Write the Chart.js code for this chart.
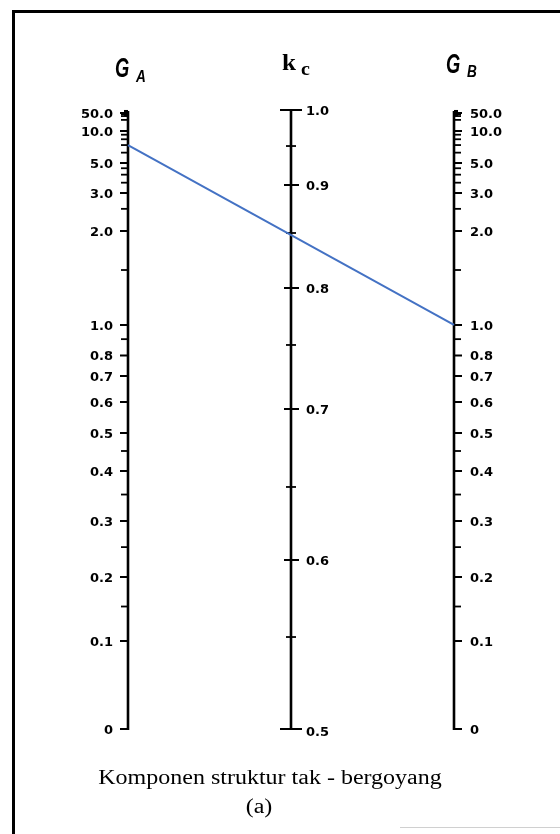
<!DOCTYPE html>
<html>
<head>
<meta charset="utf-8">
<script src="https://cdn.jsdelivr.net/npm/chart.js@4.4.1/dist/chart.umd.min.js"></script>
<style>
  html, body { margin: 0; padding: 0; background: #ffffff; }
  #wrap { position: relative; width: 560px; height: 834px; overflow: hidden; }
  #c { position: absolute; left: 0; top: 0; }
  .frame { position: absolute; background: #000; }
</style>
</head>
<body>
<div id="wrap">
  <canvas id="c" width="560" height="834"></canvas>
  <div class="frame" style="left:12px;top:10px;width:548px;height:3px;"></div>
  <div class="frame" style="left:12px;top:10px;width:3px;height:824px;"></div>
  <div class="frame" style="left:400px;top:827px;width:160px;height:1px;background:#d0d0d0;"></div>
</div>
<script>
// ---------------- data ----------------
const G_TICK_VALUES = [50, 10, 5, 3, 2, 1, 0.8, 0.7, 0.6, 0.5, 0.4, 0.3, 0.2, 0.1, 0];
const G_TICK_LABELS = ['50.0', '10.0', '5.0', '3.0', '2.0', '1.0', '0.8', '0.7', '0.6', '0.5', '0.4', '0.3', '0.2', '0.1', '0'];
const G_MINOR_TICKS = [40, 30, 20, 9, 8, 7, 6, 4.5, 4, 3.5, 2.5, 1.5, 0.9, 0.45, 0.35, 0.25, 0.15];
const K_TICK_VALUES = [1.0, 0.9, 0.8, 0.7, 0.6, 0.5];
const K_TICK_LABELS = ['1.0', '0.9', '0.8', '0.7', '0.6', '0.5'];
const K_MINOR_TICKS = [0.95, 0.85, 0.75, 0.65, 0.55];
const AXIS_NAMES = ['G', 'k', 'G'];
const AXIS_SUBS = ['A', 'c', 'B'];
// the reading line drawn across the nomograph: G_A -> G_B (crosses k_c at 0.85)
const LINE_AXES = [0, 1];      // x-position value of G_A axis and G_B axis
const LINE_G = [7, 1];         // G_A = 7, G_B = 1.0
const CAPTION = 'Komponen struktur tak - bergoyang';
const CAPTION_SUB = '(a)';

// ---------------- nomograph scales ----------------
function makeInterp(vals, fracs, tf) {
  return function (v) {
    if (v <= vals[0]) return fracs[0];
    for (let i = 1; i < vals.length; i++) {
      if (v <= vals[i]) {
        const a = tf(vals[i - 1]), b = tf(vals[i]), t = tf(v);
        return fracs[i - 1] + (t - a) / (b - a) * (fracs[i] - fracs[i - 1]);
      }
    }
    return fracs[fracs.length - 1];
  };
}
// graduation of the printed G scale (fraction of axis length from the bottom)
const gFrac = makeInterp(
  [0, 0.1, 0.2, 0.3, 0.4, 0.5, 0.6, 0.7, 0.8, 1, 1.5, 2, 3, 5, 10, 50],
  [0, .1422, .2456, .3360, .4168, .4782, .5283, .5703, .6034, .6527, .7415, .8045, .8659, .9144, .9661, .9952],
  g => g / (g + 0.5)
);
// graduation of the printed k_c scale
const kFrac = makeInterp(
  [0.5, 0.55, 0.6, 0.65, 0.7, 0.75, 0.8, 0.85, 0.9, 0.95, 1.0],
  [0, .1486, .2730, .3910, .5170, .6204, .7124, .8013, .8788, .9418, 1],
  k => k
);

class NomoGScale extends Chart.Scale {
  static id = 'nomoG';
  static defaults = {};
  determineDataLimits() { this.min = 0; this.max = 50; }
  buildTicks() { return G_TICK_VALUES.map(v => ({ value: v })); }
  getLabelForValue(v) { return String(v); }
  getPixelForValue(v) { return this.getPixelForDecimal(gFrac(v)); }
  getValueForPixel(p) { return this.getDecimalForPixel(p); }
}
class NomoKScale extends Chart.Scale {
  static id = 'nomoK';
  static defaults = {};
  determineDataLimits() { this.min = 0.5; this.max = 1; }
  buildTicks() { return K_TICK_VALUES.map(v => ({ value: v })); }
  getLabelForValue(v) { return String(v); }
  getPixelForValue(v) { return this.getPixelForDecimal(kFrac(v)); }
  getValueForPixel(p) { return this.getDecimalForPixel(p); }
}
Chart.register(NomoGScale, NomoKScale);

// ---------------- drawing helpers ----------------
function txt(ctx, s, x, y, font, align, sx) {
  ctx.save();
  ctx.font = font;
  ctx.textAlign = align;
  ctx.textBaseline = 'alphabetic';
  ctx.fillStyle = '#000';
  ctx.translate(x, y);
  ctx.scale(sx || 1, 1);
  ctx.fillText(s, 0, 0);
  ctx.restore();
}
function seg(ctx, x1, y1, x2, y2, w) {
  ctx.beginPath();
  ctx.lineWidth = w;
  ctx.moveTo(x1, y1);
  ctx.lineTo(x2, y2);
  ctx.stroke();
}
const LABEL_FONT = 'bold 13px "DejaVu Sans"';

function drawGAxis(ctx, x, scale, side) {
  const dir = side === 'left' ? -1 : 1;
  ctx.strokeStyle = '#000';
  ctx.lineCap = 'butt';
  const top = scale.getPixelForValue(G_TICK_VALUES[0]) - 2;
  const bot = scale.getPixelForValue(0);
  seg(ctx, x, top, x, bot + 1, 2.6);
  G_MINOR_TICKS.forEach(v => {
    const y = scale.getPixelForValue(v);
    seg(ctx, x, y, x + dir * 7, y, 1.8);
  });
  G_TICK_VALUES.forEach((v, i) => {
    const y = scale.getPixelForValue(v);
    seg(ctx, x, y, x + dir * 8, y, 2);
    if (side === 'left') txt(ctx, G_TICK_LABELS[i], x - 15, y + 5, LABEL_FONT, 'right');
    else txt(ctx, G_TICK_LABELS[i], x + 16, y + 5, LABEL_FONT, 'left');
  });
  // heavy mark at the top end
  const y50 = scale.getPixelForValue(50);
  ctx.fillStyle = '#000';
  ctx.fillRect(side === 'left' ? x - 4 : x, y50 - 3, 4, 6);
}

function drawKAxis(ctx, x, scale) {
  ctx.strokeStyle = '#000';
  const top = scale.getPixelForValue(1.0);
  const bot = scale.getPixelForValue(0.5);
  seg(ctx, x, top, x, bot, 2.6);
  K_MINOR_TICKS.forEach(v => {
    const y = scale.getPixelForValue(v);
    seg(ctx, x - 5, y, x + 5, y, 1.8);
  });
  K_TICK_VALUES.forEach((v, i) => {
    const y = scale.getPixelForValue(v);
    const end = (v === 1.0 || v === 0.5);
    seg(ctx, x - (end ? 11 : 7), y, x + (end ? 11 : 8), y, 2);
    txt(ctx, K_TICK_LABELS[i], x + 15, y + 5 + (v === 0.5 ? 2 : 0), LABEL_FONT, 'left');
  });
}

const nomoPlugin = {
  id: 'nomo',
  beforeDatasetsDraw(chart) {
    const ctx = chart.ctx;
    const xs = chart.scales.x;
    const xA = xs.getPixelForValue(0), xK = xs.getPixelForValue(0.5), xB = xs.getPixelForValue(1);
    drawGAxis(ctx, xA, chart.scales.yA, 'left');
    drawKAxis(ctx, xK, chart.scales.yK);
    drawGAxis(ctx, xB, chart.scales.yB, 'right');

    // axis titles
    const gFont = 'italic bold 27px "Liberation Sans"';
    const subFont = 'italic bold 16px "Liberation Sans"';
    txt(ctx, AXIS_NAMES[0], xA - 13, 77, gFont, 'left', 0.68);
    txt(ctx, AXIS_SUBS[0], xA + 8, 82, subFont, 'left', 0.85);
    txt(ctx, AXIS_NAMES[1], xK - 9, 70, 'bold 24px "Liberation Serif"', 'left', 1.05);
    txt(ctx, AXIS_SUBS[1], xK + 10, 75, 'bold 19px "Liberation Serif"', 'left', 1.05);
    txt(ctx, AXIS_NAMES[2], xB - 8, 73, gFont, 'left', 0.68);
    txt(ctx, AXIS_SUBS[2], xB + 13, 77, subFont, 'left', 0.85);

    // caption
    txt(ctx, CAPTION, 270, 784, '20px "Liberation Serif"', 'center', 1.2);
    txt(ctx, CAPTION_SUB, 259, 813, '20px "Liberation Serif"', 'center', 1.2);
  }
};

new Chart(document.getElementById('c'), {
  type: 'line',
  data: {
    datasets: [{
      data: LINE_AXES.map((a, i) => ({ x: a, y: LINE_G[i] })),
      xAxisID: 'x',
      yAxisID: 'yA',
      borderColor: '#4472C4',
      borderWidth: 2,
      pointRadius: 0,
      fill: false,
      tension: 0,
      clip: false
    }]
  },
  options: {
    responsive: false,
    animation: false,
    events: [],
    layout: { padding: { left: 128, right: 106, top: 110, bottom: 105 } },
    plugins: { legend: { display: false }, tooltip: { enabled: false }, title: { display: false } },
    scales: {
      x: { type: 'linear', min: 0, max: 1, display: false },
      yA: { type: 'nomoG', display: false, position: 'left', ticks: { autoSkip: false } },
      yK: { type: 'nomoK', display: false, position: 'left', ticks: { autoSkip: false } },
      yB: { type: 'nomoG', display: false, position: 'left', ticks: { autoSkip: false } }
    }
  },
  plugins: [nomoPlugin]
});
</script>
</body>
</html>
